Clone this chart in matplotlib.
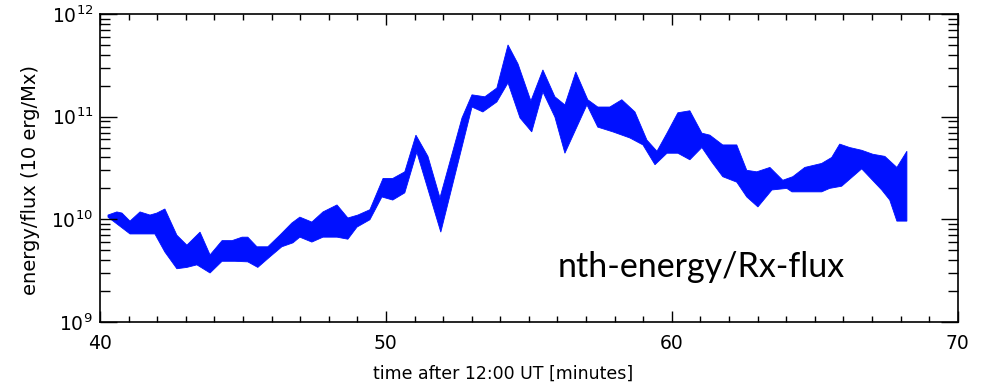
import numpy as np
import matplotlib
matplotlib.use("Agg")
import matplotlib.pyplot as plt
from matplotlib.ticker import LogLocator, MultipleLocator, NullFormatter

# ==============================
# Data
# ==============================
t_upper = [40.28, 40.59, 40.77, 41.05, 41.40, 41.75, 41.99, 42.27, 42.69, 43.04,
           43.50, 43.85, 44.27, 44.62, 44.97, 45.17, 45.49, 45.87, 46.29, 46.71,
           46.99, 47.41, 47.80, 48.29, 48.67, 49.02, 49.44, 49.90, 50.24, 50.66,
           51.05, 51.47, 51.89, 52.66, 53.01, 53.46, 53.88, 54.27, 54.62, 55.07,
           55.49, 55.91, 56.26, 56.64, 57.06, 57.41, 57.83, 58.25, 58.71, 59.13,
           59.48, 59.83, 60.21, 60.63, 61.05, 61.33, 61.78, 62.27, 62.62, 62.97,
           63.43, 63.88, 64.23, 64.65, 65.24, 65.59, 65.87, 66.22, 66.64, 67.03,
           67.45, 67.87, 68.22]
upper = [1.10e10, 1.18e10, 1.15e10, 9.6e9, 1.18e10, 1.10e10, 1.15e10, 1.26e10, 7.0e9, 5.6e9,
         7.5e9, 4.5e9, 6.2e9, 6.2e9, 6.7e9, 6.7e9, 5.4e9, 5.4e9, 7.0e9, 9.2e9,
         1.05e10, 9.4e9, 1.18e10, 1.38e10, 1.03e10, 1.10e10, 1.24e10, 2.5e10, 2.5e10, 2.9e10,
         6.6e10, 4.1e10, 1.62e10, 9.7e10, 1.63e11, 1.56e11, 1.90e11, 4.99e11, 3.26e11, 1.42e11,
         2.85e11, 1.56e11, 1.30e11, 2.72e11, 1.46e11, 1.24e11, 1.24e11, 1.46e11, 1.11e11, 5.9e10,
         4.6e10, 6.9e10, 1.09e11, 1.14e11, 6.9e10, 6.6e10, 5.3e10, 5.3e10, 3.0e10, 2.9e10,
         3.2e10, 2.4e10, 2.6e10, 3.2e10, 3.5e10, 4.0e10, 5.4e10, 5.0e10, 4.7e10, 4.3e10,
         4.1e10, 3.2e10, 4.6e10]

t_lower = [40.28, 41.05, 41.92, 42.27, 42.69, 43.04, 43.39, 43.85, 44.27, 44.72,
           45.17, 45.52, 45.94, 46.36, 46.75, 46.99, 47.41, 47.80, 48.29, 48.67,
           48.99, 49.44, 49.86, 50.24, 50.66, 51.08, 51.92, 53.01, 53.39, 53.88,
           54.27, 54.69, 55.10, 55.49, 55.91, 56.26, 57.03, 57.41, 57.94, 58.53,
           58.99, 59.41, 59.83, 60.21, 60.63, 61.05, 61.40, 61.78, 62.27, 62.62,
           63.01, 63.50, 64.02, 64.20, 65.24, 65.52, 65.94, 66.64, 67.34, 67.62,
           67.87, 68.22]
lower = [1.05e10, 7.2e9, 7.2e9, 4.8e9, 3.3e9, 3.4e9, 3.6e9, 3.0e9, 3.9e9, 3.9e9,
         3.85e9, 3.4e9, 4.3e9, 5.4e9, 5.9e9, 6.7e9, 6.0e9, 6.7e9, 6.7e9, 6.4e9,
         8.4e9, 9.9e9, 1.65e10, 1.54e10, 1.81e10, 4.5e10, 7.5e9, 1.24e11, 1.11e11, 1.39e11,
         2.13e11, 9.7e10, 7.1e10, 1.74e11, 9.9e10, 4.4e10, 1.30e11, 7.9e10, 7.1e10, 6.2e10,
         5.3e10, 3.4e10, 4.4e10, 4.4e10, 3.8e10, 5.0e10, 3.6e10, 2.6e10, 2.3e10, 1.65e10,
         1.32e10, 1.93e10, 2.0e10, 1.85e10, 1.85e10, 2.0e10, 2.1e10, 3.1e10, 1.93e10, 1.54e10,
         9.6e9, 9.6e9]

x_ticks = [40, 50, 60, 70]
y_ticks = [1e9, 1e10, 1e11, 1e12]
y_tick_labels = [r"$10^{9}$", r"$10^{10}$", r"$10^{11}$", r"$10^{12}$"]

# ==============================
# Plot
# ==============================
fig = plt.figure(figsize=(9.86, 3.87), dpi=100)
ax = fig.add_axes([0.1014, 0.168, 0.870, 0.796])

poly_t = np.concatenate([t_upper, t_lower[::-1]])
poly_v = np.concatenate([upper, lower[::-1]])
ax.fill(poly_t, poly_v, color="#0010ff", lw=0.6, ec="#0010ff")

ax.set_yscale("log")
ax.set_xlim(40, 70)
ax.set_ylim(1e9, 1e12)

ax.set_xticks(x_ticks)
ax.set_xticklabels([str(v) for v in x_ticks])
ax.xaxis.set_minor_locator(MultipleLocator(1))
ax.set_yticks(y_ticks)
ax.set_yticklabels(y_tick_labels)
ax.yaxis.set_minor_locator(LogLocator(base=10, subs=np.arange(2, 10)))
ax.yaxis.set_minor_formatter(NullFormatter())

ax.tick_params(axis="both", which="both", direction="in", top=True, right=True,
               width=1.0, colors="black", labelsize=13.5)
ax.tick_params(axis="y", which="major", length=12, pad=5)
ax.tick_params(axis="y", which="minor", length=7)
ax.tick_params(axis="x", which="major", length=8, pad=9)
ax.tick_params(axis="x", which="minor", length=4)
for s in ax.spines.values():
    s.set_linewidth(1.2)

ax.set_xlabel("time after 12:00 UT [minutes]", fontsize=12.5)
ax.xaxis.set_label_coords(0.47, -0.14)
ax.set_ylabel("energy/flux (10 erg/Mx)", fontsize=14)
ax.yaxis.set_label_coords(-0.07, 0.46)

ax.text(56.0, 2.75e9, "nth-energy/Rx-flux", fontsize=24.5, family="Lato",
        va="baseline", ha="left", color="black")

plt.savefig("out.png", dpi=100)
